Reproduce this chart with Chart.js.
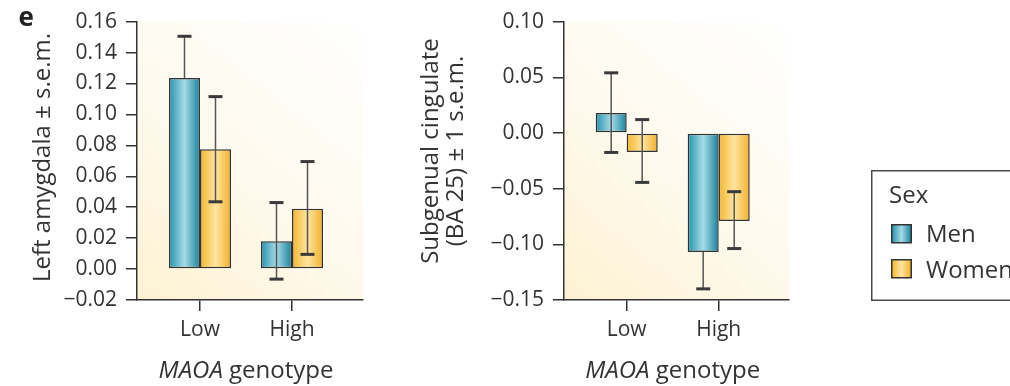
<!DOCTYPE html>
<html><head><meta charset="utf-8">
<title>MAOA genotype</title>
<script src="https://cdn.jsdelivr.net/npm/chart.js@4.4.1/dist/chart.umd.min.js"></script>
<style>
html,body{margin:0;padding:0;background:#fff;}
#wrap{position:relative;width:1010px;height:386px;overflow:hidden;}
#c1,#c2{position:absolute;top:0;}
#c1{left:0;}
#c2{left:380px;}
#ov{position:absolute;left:0;top:0;}
</style></head><body>
<div id="wrap">
<canvas id="c1" width="380" height="386"></canvas>
<canvas id="c2" width="420" height="386"></canvas>
<svg id="ov" width="1010" height="386" xmlns="http://www.w3.org/2000/svg"></svg>
</div>
<script>
// ---------------- data ----------------
const categories = ['Low', 'High'];
const seriesNames = ['Men', 'Women'];
const legendTitle = 'Sex';
const panelLabel = 'e';
const xTitleItalic = 'MAOA';
const xTitleRest = ' genotype';

// Left amygdala
const amyMen      = [0.1235, 0.018];
const amyWomen    = [0.0775, 0.039];
const amyMenHi    = [0.1505, 0.043];
const amyMenLo    = [null, -0.0065];
const amyWomenHi  = [0.1115, 0.0695];
const amyWomenLo  = [0.0435, 0.0095];
const amyTicks    = [-0.02, 0, 0.02, 0.04, 0.06, 0.08, 0.10, 0.12, 0.14, 0.16];
const amyTitle    = ['Left amygdala \u00b1 s.e.m.'];

// Subgenual cingulate
const cgMen       = [0.018, -0.107];
const cgWomen     = [-0.017, -0.079];
const cgMenHi     = [0.054, null];
const cgMenLo     = [-0.0175, -0.140];
const cgWomenHi   = [0.012, -0.0527];
const cgWomenLo   = [-0.0444, -0.1038];
const cgTicks     = [-0.15, -0.10, -0.05, 0, 0.05, 0.10];
const cgTitle     = ['Subgenual cingulate', '(BA 25) \u00b1 1 s.e.m.'];

// ---------------- style ----------------
const FONT = "'Open Sans', sans-serif";
const INK = '#333333';
const menStops   = [[0, '#2592ae'], [0.5, '#a6dbe7'], [1, '#17819b']];
const womenStops = [[0, '#f5b52a'], [0.5, '#fde5a2'], [1, '#f3b027']];

Chart.defaults.font.family = FONT;
Chart.defaults.color = INK;

function fmt(v) {
  const s = Math.abs(v).toFixed(2);
  return (v < -1e-9 ? '\u2212' : '') + s;
}

function barFill(stops) {
  return (c) => {
    const el = c.element;
    if (!el || !isFinite(el.x) || !isFinite(el.width)) return stops[1][1];
    const g = c.chart.ctx.createLinearGradient(el.x - el.width / 2, 0, el.x + el.width / 2, 0);
    stops.forEach(s => g.addColorStop(s[0], s[1]));
    return g;
  };
}

function plotBg() {
  return {
    id: 'plotBg',
    beforeDraw(chart) {
      const a = chart.chartArea, ctx = chart.ctx;
      const g = ctx.createLinearGradient(a.left, a.bottom, a.right, a.top);
      g.addColorStop(0, '#fdf2d3');
      g.addColorStop(0.5, '#fefaef');
      g.addColorStop(1, '#ffffff');
      ctx.save();
      ctx.fillStyle = g;
      ctx.fillRect(a.left, a.top, a.right - a.left, a.bottom - a.top);
      ctx.restore();
    }
  };
}

function errPlugin(sets) {
  return {
    id: 'errBars',
    afterDatasetsDraw(chart) {
      const ctx = chart.ctx, ys = chart.scales.y;
      sets.forEach((s, di) => {
        const meta = chart.getDatasetMeta(di);
        meta.data.forEach((el, i) => {
          const x = el.x;
          const yv = ys.getPixelForValue(s.val[i]);
          const yh = s.hi[i] == null ? yv : ys.getPixelForValue(s.hi[i]);
          const yl = s.lo[i] == null ? yv : ys.getPixelForValue(s.lo[i]);
          ctx.save();
          ctx.strokeStyle = '#555'; ctx.lineWidth = 1.5;
          ctx.beginPath(); ctx.moveTo(x, yh); ctx.lineTo(x, yl); ctx.stroke();
          ctx.strokeStyle = '#3a3a3a'; ctx.lineWidth = 3;
          const cw = 7;
          if (s.hi[i] != null) { ctx.beginPath(); ctx.moveTo(x - cw, yh); ctx.lineTo(x + cw, yh); ctx.stroke(); }
          if (s.lo[i] != null) { ctx.beginPath(); ctx.moveTo(x - cw, yl); ctx.lineTo(x + cw, yl); ctx.stroke(); }
          ctx.restore();
        });
      });
    }
  };
}

function titlesPlugin(o) {
  return {
    id: 'axisTitles',
    afterDraw(chart) {
      const ctx = chart.ctx;
      ctx.save();
      ctx.fillStyle = INK;
      ctx.font = '24px ' + FONT;
      ctx.textAlign = 'center';
      ctx.textBaseline = 'middle';
      ctx.translate(o.yX, o.yY);
      ctx.rotate(-Math.PI / 2);
      o.yLines.forEach((t, i) => ctx.fillText(t, 0, i * o.lh));
      ctx.restore();

      ctx.save();
      ctx.fillStyle = INK;
      ctx.textBaseline = 'alphabetic';
      ctx.textAlign = 'left';
      const xs = chart.scales.x;
      const cx = (xs.getPixelForValue(1) + xs.getPixelForValue(categories.length)) / 2;
      ctx.font = 'italic 24px ' + FONT;
      const w1 = ctx.measureText(xTitleItalic).width;
      ctx.font = '24px ' + FONT;
      const w2 = ctx.measureText(xTitleRest).width;
      const x0 = cx - (w1 + w2) / 2;
      ctx.font = 'italic 24px ' + FONT;
      ctx.fillText(xTitleItalic, x0, o.xY);
      ctx.font = '24px ' + FONT;
      ctx.fillText(xTitleRest, x0 + w1, o.xY);
      ctx.restore();
    }
  };
}

function makeChart(id, p) {
  const datasets = [
    { label: seriesNames[0], data: categories.map((c, i) => ({ x: i + 1, y: p.men[i] })), backgroundColor: barFill(menStops) },
    { label: seriesNames[1], data: categories.map((c, i) => ({ x: i + 1, y: p.women[i] })), backgroundColor: barFill(womenStops) }
  ];
  datasets.forEach(d => Object.assign(d, {
    borderColor: '#333', borderWidth: 1.5, borderSkipped: false,
    categoryPercentage: 0.674, barPercentage: 1
  }));
  const gridY = { drawOnChartArea: false, drawTicks: true, tickLength: 11, tickColor: INK, tickWidth: 1.5, lineWidth: 1.5, color: INK };
  const gridX = Object.assign({}, gridY, { offset: false });
  const border = { display: true, color: INK, width: 1.5 };
  const chart = new Chart(document.getElementById(id), {
    type: 'bar',
    data: { datasets },
    options: {
      responsive: false, animation: false, events: [],
      layout: { padding: { left: 0, right: p.padRight, top: 20, bottom: 0 } },
      plugins: { legend: { display: false }, tooltip: { enabled: false } },
      scales: {
        x: {
          type: 'linear', min: p.xMin, max: p.xMax, offset: false,
          afterBuildTicks: s => { s.ticks = categories.map((c, i) => ({ value: i + 1 })); },
          afterFit: s => { s.height = 86; },
          ticks: { callback: v => categories[Math.round(v) - 1], font: { size: 21 }, color: INK, padding: 6, maxRotation: 0, autoSkip: false },
          grid: gridX, border
        },
        y: {
          type: 'linear', min: p.ticks[0], max: p.ticks[p.ticks.length - 1],
          afterBuildTicks: s => { s.ticks = p.ticks.map(v => ({ value: v })); },
          afterFit: s => { s.width = p.yWidth; },
          ticks: { callback: v => fmt(v), font: { size: 21 }, color: INK, padding: 9 },
          grid: gridY, border
        }
      }
    },
    plugins: [
      plotBg(),
      errPlugin([
        { val: p.men, hi: p.menHi, lo: p.menLo },
        { val: p.women, hi: p.womenHi, lo: p.womenLo }
      ]),
      titlesPlugin({ yLines: p.title, yX: p.titleX, yY: p.titleY, lh: 25, xY: 378 })
    ]
  });
  chart.update('none');
  return chart;
}

makeChart('c1', {
  men: amyMen, women: amyWomen, menHi: amyMenHi, menLo: amyMenLo, womenHi: amyWomenHi, womenLo: amyWomenLo,
  ticks: amyTicks, title: amyTitle, titleX: 43, titleY: 157.5,
  yWidth: 137, padRight: 17, xMin: 0.3152, xMax: 2.7717
});
makeChart('c2', {
  men: cgMen, women: cgWomen, menHi: cgMenHi, menLo: cgMenLo, womenHi: cgWomenHi, womenLo: cgWomenLo,
  ticks: cgTicks, title: cgTitle, titleX: 51, titleY: 151,
  yWidth: 184, padRight: 11, xMin: 0.3185, xMax: 2.764
});

// ---------------- legend & panel label (SVG text) ----------------
const svgNS = 'http://www.w3.org/2000/svg';
const ov = document.getElementById('ov');
function mk(tag, attrs, text, parent) {
  const e = document.createElementNS(svgNS, tag);
  for (const k in attrs) e.setAttribute(k, attrs[k]);
  if (text != null) e.textContent = text;
  (parent || ov).appendChild(e);
  return e;
}
const defs = mk('defs', {});
[menStops, womenStops].forEach((st, k) => {
  const g = mk('linearGradient', { id: 'sw' + k, x1: '0', y1: '0', x2: '1', y2: '0' }, null, defs);
  st.forEach(s => mk('stop', { offset: s[0], 'stop-color': s[1] }, null, g));
});
mk('text', { x: 18.5, y: 26, 'font-family': FONT, 'font-size': 26, 'font-weight': 'bold', fill: '#222' }, panelLabel);
mk('rect', { x: 871.75, y: 170.75, width: 160, height: 129.5, fill: '#fff', stroke: '#4a4a4a', 'stroke-width': 1.5 });
mk('text', { x: 889, y: 202.5, 'font-family': FONT, 'font-size': 24, fill: INK }, legendTitle);
seriesNames.forEach((n, k) => {
  mk('rect', { x: 891.75, y: 224.75 + k * 35, width: 19.5, height: 18, fill: 'url(#sw' + k + ')', stroke: '#333', 'stroke-width': 1.5 });
  mk('text', { x: 926, y: 241.5 + k * 36.5, 'font-family': FONT, 'font-size': 24, fill: INK }, n);
});
</script>
</body></html>
